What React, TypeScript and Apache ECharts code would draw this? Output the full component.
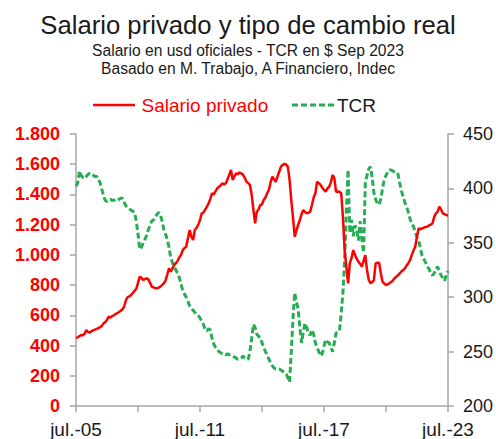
import React, { useEffect, useRef } from "react";
import * as echarts from "echarts";

const MONTHS = ["jul.", "ago.", "sep.", "oct.", "nov.", "dic.", "ene.", "feb.", "mar.", "abr.", "may.", "jun."];
const START_YEAR = 5;
const N_POINTS = 217;

// Salario privado (usd oficiales), monthly jul.-05 .. jul.-23
const salario: number[] = [
  448, 455, 462, 470, 468, 478, 503, 490, 485, 495, 500, 505,
  510, 515, 522, 530, 547, 555, 570, 591, 585, 595, 600, 610,
  615, 622, 630, 640, 660, 700, 720, 725, 735, 748, 762, 775,
  815, 856, 848, 834, 840, 845, 838, 815, 790, 785, 780, 779,
  782, 790, 800, 812, 830, 870, 911, 889, 910, 933, 945, 960,
  985, 1000, 1032, 1045, 1054, 1110, 1165, 1120, 1099, 1165, 1180, 1200,
  1230, 1275, 1280, 1300, 1320, 1341, 1370, 1408, 1400, 1420, 1440, 1451,
  1460, 1474, 1465, 1474, 1500, 1530, 1562, 1496, 1520, 1540, 1535, 1545,
  1540, 1530, 1510, 1484, 1475, 1463, 1400, 1300, 1209, 1286, 1300, 1330,
  1335, 1363, 1380, 1408, 1430, 1480, 1518, 1500, 1484, 1518, 1550, 1584,
  1595, 1602, 1598, 1584, 1500, 1363, 1250, 1120, 1160, 1200, 1231, 1270,
  1297, 1285, 1275, 1280, 1286, 1330, 1380, 1408, 1484, 1475, 1463, 1445,
  1430, 1418, 1440, 1451, 1480, 1529, 1510, 1418, 1420, 1418, 1408, 1250,
  1032, 920, 812, 944, 980, 1032, 1000, 975, 955, 940, 922, 960,
  999, 900, 834, 812, 820, 834, 944, 948, 948, 880, 823, 810,
  801, 805, 812, 820, 830, 845, 855, 865, 878, 890, 900, 911,
  930, 945, 966, 1000, 1030, 1054, 1120, 1176, 1170, 1176, 1180, 1185,
  1187, 1195, 1200, 1209, 1250, 1275, 1286, 1319, 1300, 1275, 1270, 1264,
  1260,
];

// TCR ($ Sep 2023), monthly jul.-05 .. jul.-23
const tcr: number[] = [
  402, 405, 416, 412, 410, 409, 411, 413, 414, 413, 412, 411,
  411, 409, 405, 399, 393, 389, 388, 389, 390, 389, 389, 390,
  389, 390, 391, 391, 387, 384, 382, 381, 380, 379, 378, 370,
  358, 344, 346, 350, 353, 357, 362, 366, 370, 371, 374, 376,
  378, 376, 370, 362, 358, 353, 346, 336, 332, 328, 325, 322,
  318, 312, 306, 303, 300, 296, 292, 290, 288, 286, 284, 283,
  281, 278, 275, 270, 269, 271, 270, 262, 257, 254, 252, 250,
  249, 248, 248, 247, 248, 247, 247, 246, 245, 244, 243, 243,
  244, 246, 244, 243, 243, 250, 262, 275, 272, 266, 264, 263,
  258, 254, 250, 247, 243, 240, 237, 235, 234, 234, 234, 233,
  232, 231, 230, 226, 222, 250, 280, 304, 296, 289, 272, 258,
  268, 276, 272, 267, 265, 270, 266, 258, 254, 250, 246, 248,
  255, 261, 259, 258, 254, 250, 258, 267, 268, 269, 285, 304,
  334, 380, 417, 359, 371, 356, 366, 362, 352, 370, 353, 341,
  405, 412, 418, 420, 410, 396, 390, 386, 385, 390, 400, 408,
  412, 415, 417, 417, 416, 415, 415, 413, 405, 398, 392, 387,
  383, 378, 372, 367, 365, 360, 355, 352, 345, 338, 335, 332,
  328, 326, 322, 320, 322, 326, 328, 324, 320, 318, 315, 320,
  324,
];

const categories: string[] = Array.from({ length: N_POINTS }, (_, i) => {
  const yr = START_YEAR + Math.floor(i / 12) + (i % 12 >= 6 ? 1 : 0);
  return `${MONTHS[i % 12]}-${String(yr).padStart(2, "0")}`;
});

const LEGEND_NAMES = ["Salario privado", "TCR"];

const FONT = "'Liberation Sans', Arial, sans-serif";
const RED = "#ff0000";
const GREEN = "#27ae55";
const AXIS_GRAY = "#a6a6a6";
const DARK = "#1a1a1a";

function fmtThousands(v: number): string {
  if (v >= 1000) {
    const th = Math.floor(v / 1000);
    const rest = String(v % 1000).padStart(3, "0");
    return `${th}.${rest}`;
  }
  return String(v);
}

export default function App() {
  const ref = useRef<HTMLDivElement>(null);
  useEffect(() => {
    if (!ref.current) return;
    const chart = echarts.init(ref.current, undefined, { renderer: "svg" });
    chart.setOption({
      animation: false,
      backgroundColor: "#ffffff",
      textStyle: { fontFamily: FONT },
      title: [
        {
          text: "Salario privado y tipo de cambio real",
          left: "center",
          top: 12,
          padding: 0,
          textStyle: { fontSize: 25.7, fontWeight: "normal", color: DARK, fontFamily: FONT },
        },
        {
          text: "Salario en usd oficiales - TCR en $ Sep 2023\nBasado en M. Trabajo, A Financiero, Indec",
          left: "center",
          top: 41,
          padding: 0,
          textStyle: { fontSize: 15.6, lineHeight: 18, fontWeight: "normal", color: DARK, fontFamily: FONT },
        },
      ],
      graphic: [
        {
          type: "line",
          shape: { x1: 93, y1: 105, x2: 135, y2: 105 },
          style: { stroke: RED, lineWidth: 2.5 },
        },
        {
          type: "text",
          x: 141.5,
          y: 105,
          style: {
            text: LEGEND_NAMES[0],
            fill: RED,
            fontSize: 19,
            fontFamily: FONT,
            verticalAlign: "middle",
            align: "left",
          },
        },
        {
          type: "line",
          shape: { x1: 292, y1: 105, x2: 335, y2: 105 },
          style: { stroke: GREEN, lineWidth: 3, lineDash: [6, 3] },
        },
        {
          type: "text",
          x: 337,
          y: 105,
          style: {
            text: LEGEND_NAMES[1],
            fill: DARK,
            fontSize: 19,
            fontFamily: FONT,
            verticalAlign: "middle",
            align: "left",
          },
        },
      ],
      grid: { left: 76, right: 44.5, top: 134, bottom: 33, containLabel: false },
      xAxis: {
        type: "category",
        data: categories,
        boundaryGap: false,
        axisLine: { show: true, lineStyle: { color: AXIS_GRAY, width: 1.5 } },
        axisTick: { show: true, interval: 35, length: 6, lineStyle: { color: AXIS_GRAY, width: 1.5 } },
        axisLabel: {
          interval: 71,
          margin: 14,
          fontSize: 19,
          color: DARK,
          fontFamily: FONT,
          showMaxLabel: true,
        },
        splitLine: { show: false },
      },
      yAxis: [
        {
          type: "value",
          min: 0,
          max: 1800,
          interval: 200,
          position: "left",
          axisLine: { show: true, lineStyle: { color: AXIS_GRAY, width: 1.5 } },
          axisTick: { show: true, length: 6, lineStyle: { color: AXIS_GRAY, width: 1.5 } },
          axisLabel: {
            margin: 16,
            fontSize: 18,
            fontWeight: "bold",
            color: RED,
            fontFamily: FONT,
            formatter: (v: number) => fmtThousands(v),
          },
          splitLine: { show: false },
        },
        {
          type: "value",
          min: 200,
          max: 450,
          interval: 50,
          position: "right",
          axisLine: { show: true, lineStyle: { color: AXIS_GRAY, width: 1.5 } },
          axisTick: { show: true, length: 6, lineStyle: { color: AXIS_GRAY, width: 1.5 } },
          axisLabel: { margin: 15, fontSize: 18, color: DARK, fontFamily: FONT },
          splitLine: { show: false },
        },
      ],
      series: [
        {
          name: LEGEND_NAMES[1],
          type: "line",
          yAxisIndex: 1,
          data: tcr,
          symbol: "none",
          color: GREEN,
          lineStyle: { color: GREEN, width: 3, type: [6, 3] },
          z: 2,
        },
        {
          name: LEGEND_NAMES[0],
          type: "line",
          yAxisIndex: 0,
          data: salario,
          symbol: "none",
          color: RED,
          lineStyle: { color: RED, width: 2.5 },
          z: 3,
        },
      ],
    });
    return () => chart.dispose();
  }, []);
  return (
    <div
      ref={ref}
      style={{ position: "fixed", left: 0, top: 0, width: 496, height: 439, background: "#fff" }}
    />
  );
}
